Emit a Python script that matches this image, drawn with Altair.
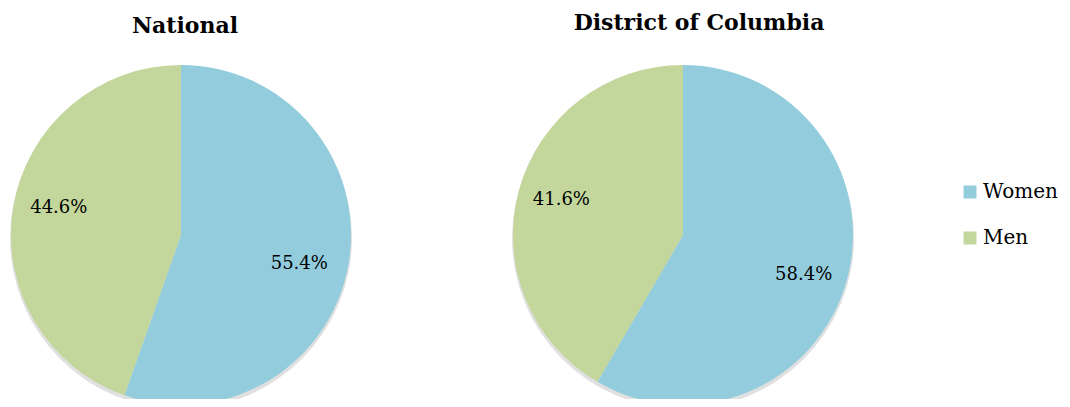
import altair as alt
import pandas as pd

regions = ["National", "District of Columbia"]
genders = ["Women", "Men"]
national = [55.4, 44.6]
dc = [58.4, 41.6]
colors = ["#93CDDD", "#C3D69B"]

rows = []
for reg, vals in zip(regions, [national, dc]):
    for i, (g, v) in enumerate(zip(genders, vals)):
        rows.append({"region": reg, "gender": g, "value": v, "order": i,
                     "label": f"{v:.1f}%"})
df = pd.DataFrame(rows)

FONT = "DejaVu Serif"
R = 170
centers = {"National": (173, 227), "District of Columbia": (675, 227)}
# label radius and vertical nudge per slice
label_style = {
    ("National", "Women"): (120, 9), ("National", "Men"): (124, -6),
    ("District of Columbia", "Women"): (125, 7), ("District of Columbia", "Men"): (126, -2),
}
title_pos = {"National": (177, 25), "District of Columbia": (691, 22)}

color = alt.Color("gender:N", scale=alt.Scale(domain=genders, range=colors),
                  legend=alt.Legend(title=None, orient="none", legendX=952, legendY=174,
                                    symbolType="square", symbolSize=169, symbolStrokeWidth=0,
                                    labelFont=FONT, labelFontSize=20, labelColor="#000",
                                    rowPadding=26, labelOffset=3))

layers = []
for reg in regions:
    cx, cy = centers[reg]
    base = alt.Chart(df).transform_filter(alt.datum.region == reg)
    shadow = base.transform_filter(alt.datum.order == 0).mark_arc(
        radius=R + 1, theta=0, theta2=6.2832, color="#000", opacity=0.12
    ).encode(x=alt.value(cx), y=alt.value(cy + 3))
    pie = base.mark_arc(radius=R).encode(
        theta=alt.Theta("value:Q", stack=True),
        order=alt.Order("order:Q"),
        color=color,
        x=alt.value(cx), y=alt.value(cy),
    )
    layers += [shadow, pie]
    for g in genders:
        r, dy = label_style[(reg, g)]
        text = base.mark_text(radius=r, dy=dy, font=FONT, fontSize=18, color="#000").encode(
            theta=alt.Theta("value:Q", stack=True),
            order=alt.Order("order:Q"),
            text="label:N",
            opacity=alt.condition(alt.datum.gender == g, alt.value(1), alt.value(0)),
            x=alt.value(cx), y=alt.value(cy),
        )
        layers.append(text)
    tx, ty = title_pos[reg]
    title = alt.Chart(pd.DataFrame({"t": [reg]})).mark_text(
        font=FONT, fontSize=22, fontWeight="bold", color="#000", baseline="alphabetic"
    ).encode(text="t:N", x=alt.value(tx), y=alt.value(ty))
    layers.append(title)

chart = alt.layer(*layers).properties(
    width=1054, height=391, padding=0, autosize=alt.AutoSizeParams(type="none")
).configure_view(stroke=None)

chart.save("out.html", embed_options={"renderer": "svg", "actions": False})
